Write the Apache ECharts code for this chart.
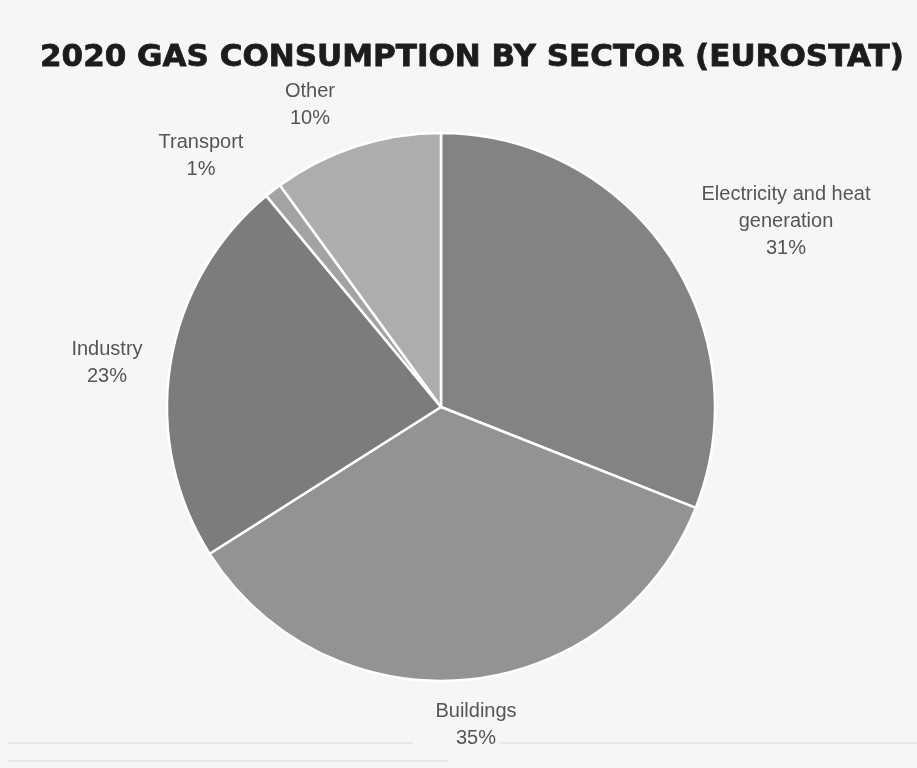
<!DOCTYPE html>
<html><head><meta charset="utf-8">
<script src="https://cdn.jsdelivr.net/npm/echarts@6/dist/echarts.min.js"></script>
<style>html,body{margin:0;padding:0;background:#f6f6f6}#c{width:917px;height:768px}</style>
</head><body><div id="c"></div>
<script>
const categories = ['Electricity and heat\ngeneration', 'Buildings', 'Industry', 'Transport', 'Other'];
const values = [31, 35, 23, 1, 10];
const colors = ['#838383', '#939393', '#7c7c7c', '#a3a3a3', '#adadad'];
// label offsets from pie centre (layout only)
const labelOffsets = [[345, -186], [35, 318], [-334, -44], [-240, -251], [-131, -302]];
const CX = 441, CY = 407;

const chart = echarts.init(document.getElementById('c'));
chart.setOption({
  backgroundColor: '#f6f6f6',
  animation: false,
  title: {
    text: '2020 GAS CONSUMPTION BY SECTOR (EUROSTAT)',
    left: 35, top: 37,
    textStyle: { fontFamily: 'DejaVu Sans', fontWeight: 'bold', fontSize: 31, color: '#1c1c1c',
      textBorderColor: '#1c1c1c', textBorderWidth: 0.8 }
  },
  graphic: [
    { type: 'rect', shape: { x: 8, y: 742, width: 405, height: 2 }, style: { fill: '#e6e6e6' }, z: -1 },
    { type: 'rect', shape: { x: 500, y: 742, width: 417, height: 2 }, style: { fill: '#e6e6e6' }, z: -1 },
    { type: 'rect', shape: { x: 8, y: 760, width: 440, height: 2 }, style: { fill: '#e6e6e6' }, z: -1 }
  ],
  series: [{
    type: 'pie',
    center: [CX, CY],
    radius: [0, 274],
    startAngle: 90,
    clockwise: true,
    data: categories.map((c, i) => ({ name: c, value: values[i], itemStyle: { color: colors[i] } })),
    itemStyle: { borderColor: '#ffffff', borderWidth: 2.5 },
    label: {
      show: true,
      formatter: p => p.name + '\n' + p.value + '%',
      fontFamily: 'Liberation Sans',
      fontSize: 20,
      lineHeight: 27,
      color: '#555555',
      align: 'center'
    },
    labelLine: { show: false },
    labelLayout: p => ({
      x: CX + labelOffsets[p.dataIndex][0],
      y: CY + labelOffsets[p.dataIndex][1],
      align: 'center',
      verticalAlign: 'middle'
    })
  }]
});
</script></body></html>
